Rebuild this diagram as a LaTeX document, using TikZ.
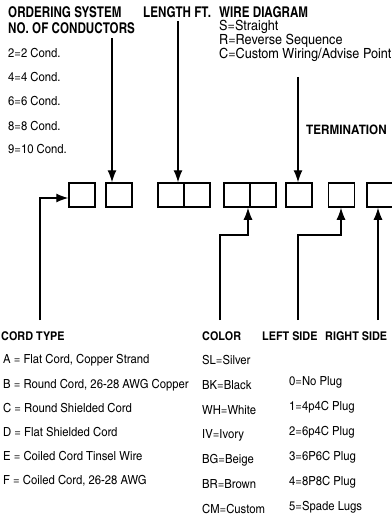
\documentclass[tikz,border=0pt]{standalone}
\usepackage{fontspec}
\setmainfont{texgyreheroscn}[Extension=.otf, UprightFont=*-regular, BoldFont=*-bold, FakeStretch=1.1]
\newfontfamily\headfont{texgyreheroscn}[Extension=.otf, UprightFont=*-bold, FakeStretch=0.96]
\usetikzlibrary{arrows.meta}

\begin{document}
\begin{tikzpicture}[x=1pt, y=-1pt]
    \tikzset{slot/.style={draw, line width=1.5pt, minimum width=26pt, minimum height=24pt, inner sep=0pt},
      head/.style={anchor=base west, inner sep=0pt, font=\fontsize{14.8}{14.8}\headfont},
      subhead/.style={anchor=base west, inner sep=0pt, font=\fontsize{12}{12}\selectfont\bfseries},
      entry/.style={anchor=base west, inner sep=0pt, font=\fontsize{12.5}{12.5}\selectfont},
      pointer/.style={line width=1.2pt, -{Latex[length=12pt, width=9pt]}}}
    \useasboundingbox (0,0) rectangle (391,524);

    % Order code slots
    \node[slot] (slot1) at (82,195) {};
    \node[slot] (slot2) at (119,195) {};
    \node[slot] (slot3) at (171,195) {};
    \node[slot] (slot4) at (197,195) {};
    \node[slot] (slot5) at (237,195) {};
    \node[slot] (slot6) at (263,195) {};
    \node[slot] (slot7) at (299,195) {};
    \node[slot] (slot8) at (341.5,195) {};
    \node[slot] (slot9) at (380,195) {};

    % Top headings
    \node[head] (ordering) at (8,18) {ORDERING SYSTEM};
    \node[head] (conductors) at (8,34) {NO. OF CONDUCTORS};
    \node[head] (length) at (143,18) {LENGTH FT.};
    \node[head] (wiring) at (219,18) {WIRE DIAGRAM};
    \node[subhead, font=\fontsize{13}{13}\selectfont\bfseries] (termination) at (306,135) {TERMINATION};

    % Conductor choices
    \node[entry] (c2) at (8,58) {2=2 Cond.};
    \node[entry] (c4) at (8,82) {4=4 Cond.};
    \node[entry] (c6) at (8,106) {6=6 Cond.};
    \node[entry] (c8) at (8,130) {8=8 Cond.};
    \node[entry] (c10) at (8,153) {9=10 Cond.};

    % Wire diagram choices
    \node[entry, font=\fontsize{14}{14}\selectfont] (wS) at (219,31) {S=Straight};
    \node[entry, font=\fontsize{14}{14}\selectfont] (wR) at (219,45) {R=Reverse Sequence};
    \node[entry, font=\fontsize{14}{14}\selectfont] (wC) at (219,59) {C=Custom Wiring/Advise Point};

    % Bottom headings
    \node[subhead] (cordtype) at (1,340) {CORD TYPE};
    \node[subhead] (color) at (202,340) {COLOR};
    \node[subhead] (leftside) at (262,340) {LEFT SIDE};
    \node[subhead] (rightside) at (325,340) {RIGHT SIDE};

    % Cord types
    \node[entry] (tA) at (3,363) {A = Flat Cord, Copper Strand};
    \node[entry] (tB) at (3,388) {B = Round Cord, 26-28 AWG Copper};
    \node[entry] (tC) at (3,412) {C = Round Shielded Cord};
    \node[entry] (tD) at (3,436) {D = Flat Shielded Cord};
    \node[entry] (tE) at (3,460) {E = Coiled Cord Tinsel Wire};
    \node[entry] (tF) at (3,484) {F = Coiled Cord, 26-28 AWG};

    % Colors
    \node[entry] (kSL) at (202,364) {SL=Silver};
    \node[entry] (kBK) at (202,389) {BK=Black};
    \node[entry] (kWH) at (202,414) {WH=White};
    \node[entry] (kIV) at (202,438) {IV=Ivory};
    \node[entry] (kBG) at (202,463) {BG=Beige};
    \node[entry] (kBR) at (202,488) {BR=Brown};
    \node[entry] (kCM) at (202,513) {CM=Custom};

    % Plugs
    \node[entry] (p0) at (289,385) {0=No Plug};
    \node[entry] (p1) at (289,410) {1=4p4C Plug};
    \node[entry] (p2) at (289,435) {2=6p4C Plug};
    \node[entry] (p3) at (289,460) {3=6P6C Plug};
    \node[entry] (p4) at (289,485) {4=8P8C Plug};
    \node[entry] (p5) at (289,510) {5=Spade Lugs};

    % Pointers from above
    \coordinate (condtop) at (112,38);
    \coordinate (lengthtop) at (178,21);
    \coordinate (termtop) at (298,77);
    \draw[pointer] (condtop) -- (condtop |- slot2.north);
    \draw[pointer] (lengthtop) -- (lengthtop |- slot3.north);
    \draw[pointer] (termtop) -- (termtop |- slot7.north);

    % Pointers from below
    \coordinate (cordfoot) at (40,320);
    \coordinate (colorfoot) at (220,320);
    \coordinate (colorknee) at (248,235);
    \coordinate (leftfoot) at (298,320);
    \coordinate (leftknee) at (341,235);
    \coordinate (rightfoot) at (378,320);
    \draw[pointer] (cordfoot) |- ([yshift=-3pt]slot1.west);
    \draw[pointer] (colorfoot) |- (colorknee) -- (colorknee |- slot6.south);
    \draw[pointer] (leftfoot) |- (leftknee) -- (leftknee |- slot8.south);
    \draw[pointer] (rightfoot) -- (rightfoot |- slot9.south);
\end{tikzpicture}
\end{document}
